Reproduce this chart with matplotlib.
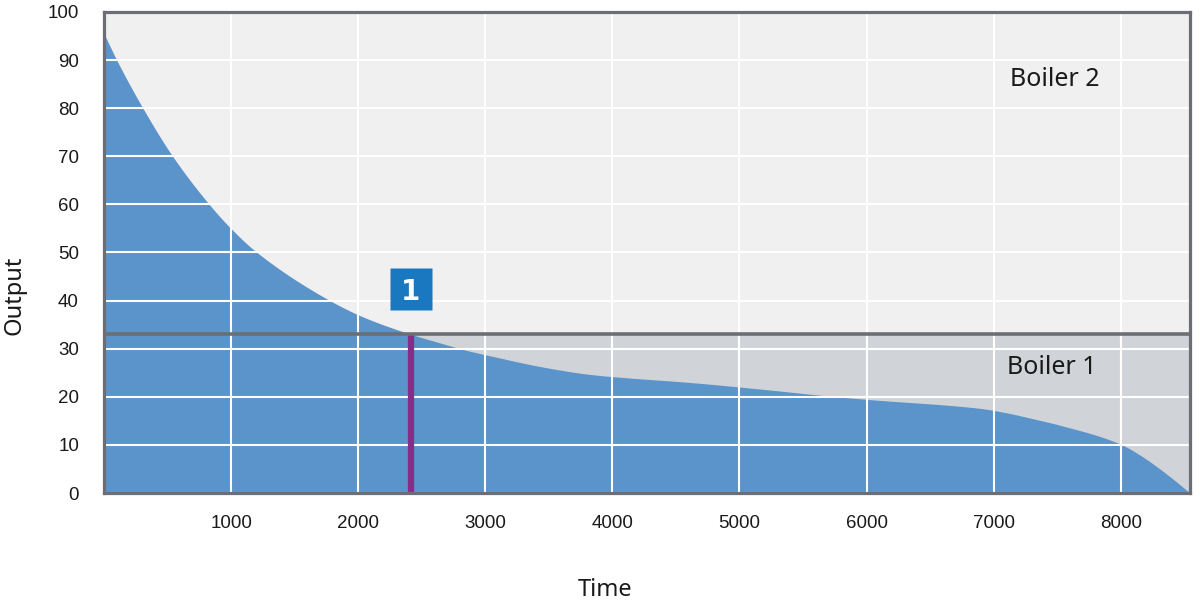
import numpy as np
import matplotlib
matplotlib.use('Agg')
import matplotlib.pyplot as plt

# load duration curve
time_h = [0, 100, 317, 540, 828, 991, 1204, 1778, 2030, 2415, 2644, 2853,
          3076, 3430, 3824, 4112, 4477, 4689, 5130, 5767, 6035, 6892, 7057,
          7364, 7520, 7986, 8151, 8308, 8411, 8545]
output = [95.5, 90, 79.5, 70, 60, 55.2, 50, 40, 36.7, 33, 31.2, 29.65,
          28.3, 26.3, 24.65, 23.95, 23.25, 22.8, 21.7, 20.0, 19.4, 17.6, 16.9,
          15.1, 14.1, 10.3, 7.9, 5.0, 2.9, 0]

boiler1_max = 33
switch_time = 2415
x_ticks = [1000, 2000, 3000, 4000, 5000, 6000, 7000, 8000]
y_ticks = [0, 10, 20, 30, 40, 50, 60, 70, 80, 90, 100]
x_max = 8545

fill_col = '#5b93cb'
upper_bg = '#f0f0f0'
lower_bg = '#d0d4d8'
frame_col = '#6b6f75'


def pchip(x, y, xs):
    # monotone cubic through the read points, only to draw a smooth edge
    x = np.asarray(x, float)
    y = np.asarray(y, float)
    h = np.diff(x)
    d = np.diff(y) / h
    m = np.zeros_like(y)
    for k in range(1, len(x) - 1):
        if d[k - 1] * d[k] > 0:
            w1 = 2 * h[k] + h[k - 1]
            w2 = h[k] + 2 * h[k - 1]
            m[k] = (w1 + w2) / (w1 / d[k - 1] + w2 / d[k])
    m[0] = d[0]
    m[-1] = d[-1]
    i = np.clip(np.searchsorted(x, xs) - 1, 0, len(x) - 2)
    t = (xs - x[i]) / h[i]
    h00 = 2 * t**3 - 3 * t**2 + 1
    h10 = t**3 - 2 * t**2 + t
    h01 = -2 * t**3 + 3 * t**2
    h11 = t**3 - t**2
    return h00 * y[i] + h10 * h[i] * m[i] + h01 * y[i + 1] + h11 * h[i] * m[i + 1]


xs = np.linspace(time_h[0], time_h[-1], 800)
ys = pchip(time_h, output, xs)

fig = plt.figure(figsize=(12, 6.05), dpi=100)
ax = fig.add_axes([104 / 1200, 112 / 605, 1086 / 1200, 481 / 605])
ax.set_facecolor(upper_bg)
ax.axhspan(0, boiler1_max, color=lower_bg, zorder=0.5, lw=0)
ax.fill_between(xs, ys, 0, color=fill_col, lw=0, zorder=1)

ax.set_xlim(0, x_max)
ax.set_ylim(0, 100)
ax.set_xticks(x_ticks)
ax.set_yticks(y_ticks)
ax.set_axisbelow(False)
ax.grid(True, color='white', lw=1.5, zorder=2)
ax.tick_params(length=0, labelsize=13.5, labelcolor='#1a1a1a')
ax.tick_params(axis='x', pad=16)
ax.tick_params(axis='y', pad=18)
for lab in ax.get_xticklabels() + ax.get_yticklabels():
    lab.set_fontfamily('Liberation Sans')

for s in ax.spines.values():
    s.set_color(frame_col)
    s.set_linewidth(2.3)
    s.set_zorder(5)

ax.axhline(boiler1_max, color=frame_col, lw=2.6, zorder=4)
ax.vlines(switch_time, 0, boiler1_max, color='#8a2c87', lw=4.5, zorder=3)

# numbered marker "1"
ax.plot([switch_time], [42.4], marker='s', markersize=30, color='#1a78c0',
        mec='none', zorder=6)
ax.text(switch_time, 42.4, '1', color='white', fontsize=20, fontweight='bold',
        family='DejaVu Sans', ha='center', va='center_baseline', zorder=7)

ax.text(7480, 86, 'Boiler 2', fontsize=18, family='Noto Sans',
        color='#1a1a1a', ha='center', va='center', zorder=6)
ax.text(7460, 26, 'Boiler 1', fontsize=18, family='Noto Sans',
        color='#1a1a1a', ha='center', va='center', zorder=6)

fig.text(605 / 1200, 1 - 590 / 605, 'Time', fontsize=17, family='Noto Sans',
         ha='center', va='center', color='#1a1a1a')
fig.text(14 / 1200, 1 - 295 / 605, 'Output', fontsize=17, family='Noto Sans',
         rotation=90, ha='center', va='center', color='#1a1a1a')

fig.savefig('out.png', dpi=100, facecolor='white')
